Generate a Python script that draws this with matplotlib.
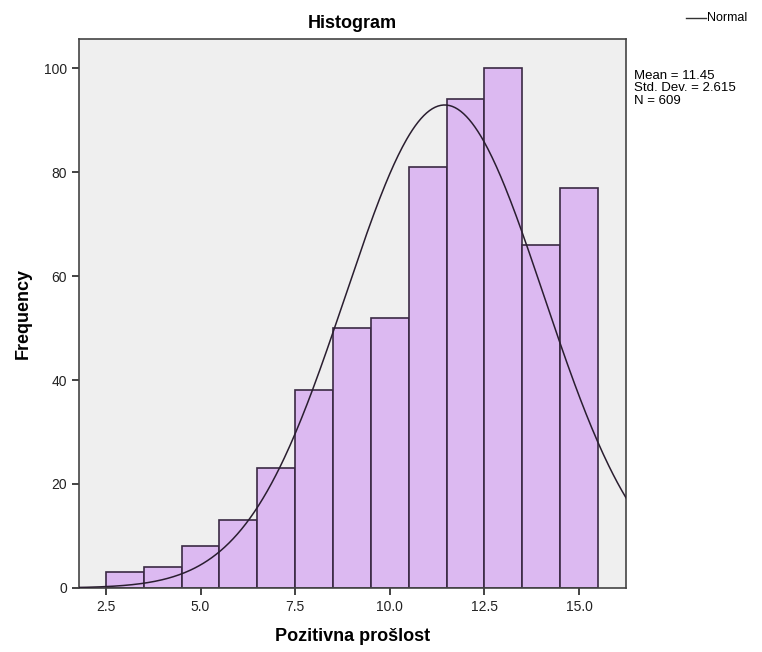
import numpy as np
import matplotlib
matplotlib.use('Agg')
import matplotlib.pyplot as plt

plt.rcParams['font.family'] = ['Liberation Sans', 'DejaVu Sans']

# bin centres and counts
centres = [3, 4, 5, 6, 7, 8, 9, 10, 11, 12, 13, 14, 15]
counts = [3, 4, 8, 13, 23, 38, 50, 52, 81, 94, 100, 66, 77]
mean = 11.45
sd = 2.615
n = 609
xticks = [2.5, 5.0, 7.5, 10.0, 12.5, 15.0]
yticks = [0, 20, 40, 60, 80, 100]

fig = plt.figure(figsize=(7.62, 6.52), dpi=100)
ax = fig.add_axes([0.1037, 0.0982, 0.7173, 0.8420])
ax.set_facecolor('#efefef')

ax.bar(centres, counts, width=1.0, color='#dcb9f1', edgecolor='#3a2a44', linewidth=1.2, zorder=2)

# normal curve scaled to counts (bin width 1)
x = np.linspace(1.5, 16.5, 400)
y = n * 1.0 / (sd * np.sqrt(2 * np.pi)) * np.exp(-0.5 * ((x - mean) / sd) ** 2)
ax.plot(x, y, color='#2a1e30', linewidth=1.1, zorder=3)

ax.set_xlim(1.79, 16.23)
ax.set_ylim(0, 105.6)
ax.set_xticks(xticks)
ax.set_xticklabels(['%.1f' % t for t in xticks])
ax.set_yticks(yticks)
ax.tick_params(direction='out', length=5, width=1.2, labelsize=10, colors='#222222')
for s in ax.spines.values():
    s.set_color('#444444')
    s.set_linewidth(1.2)

ax.set_title('Histogram', fontsize=13, fontweight='bold', pad=8)
ax.set_xlabel('Pozitivna prošlost', fontsize=13, fontweight='bold', labelpad=10)
ax.set_ylabel('Frequency', fontsize=13, fontweight='bold', labelpad=9)

# legend line and stats text
fig.lines.append(plt.Line2D([686 / 762, 706 / 762], [1 - 18 / 652, 1 - 18 / 652],
                            transform=fig.transFigure, color='#333333', linewidth=1))
fig.text(707 / 762, 1 - 18 / 652, 'Normal', fontsize=9, va='center', ha='left')
fig.text(634 / 762, 1 - 70 / 652, 'Mean = 11.45\nStd. Dev. = 2.615\nN = 609',
         fontsize=9.5, va='top', ha='left', linespacing=1.05)

fig.savefig('out.png', dpi=100)
